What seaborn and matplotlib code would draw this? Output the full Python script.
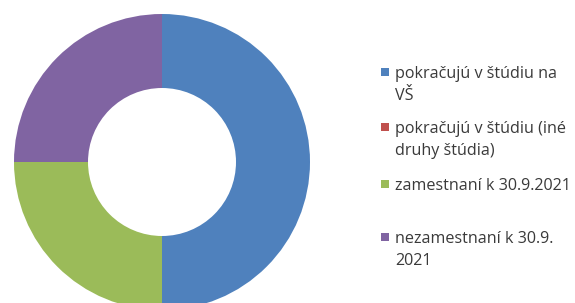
import matplotlib
matplotlib.use("Agg")
import matplotlib.pyplot as plt
import seaborn as sns
from matplotlib.patches import Rectangle

sns.set_theme(style="white")
plt.rcParams['font.family'] = ['Open Sans', 'DejaVu Sans']

# data
labels = ["pokračujú v štúdiu na\nVŠ",
          "pokračujú v štúdiu (iné\ndruhy štúdia)",
          "zamestnaní k 30.9.2021",
          "nezamestnaní k 30.9.\n2021"]
values = [50, 0, 25, 25]
colors = ["#4F81BD", "#C0504D", "#9BBB59", "#8064A2"]

W, H = 575, 303
fig = plt.figure(figsize=(W / 100, H / 100), dpi=100)
ax = fig.add_axes([0, 0, 1, 1])

# donut (y axis inverted, so counterclock=True draws clockwise on screen)
cx, cy, r = 162, 162, 148
ax.pie(values, colors=colors, startangle=-90, counterclock=True,
       center=(cx, cy), radius=r, frame=True,
       wedgeprops=dict(width=r * 0.5, linewidth=0))
ax.set_xlim(0, W)
ax.set_ylim(H, 0)
ax.set_aspect("auto")
ax.axis("off")

# legend, drawn line by line
baselines = [78, 133, 190, 243]
line_gap = 22
for lab, col, yb in zip(labels, colors, baselines):
    ax.add_patch(Rectangle((381, yb - 10), 8, 8, facecolor=col, edgecolor="none"))
    for i, line in enumerate(lab.split("\n")):
        ax.text(395, yb + i * line_gap, line, fontsize=11.6, color="#3a3a3a",
                va="baseline", ha="left")

fig.savefig("out.png", dpi=100)
